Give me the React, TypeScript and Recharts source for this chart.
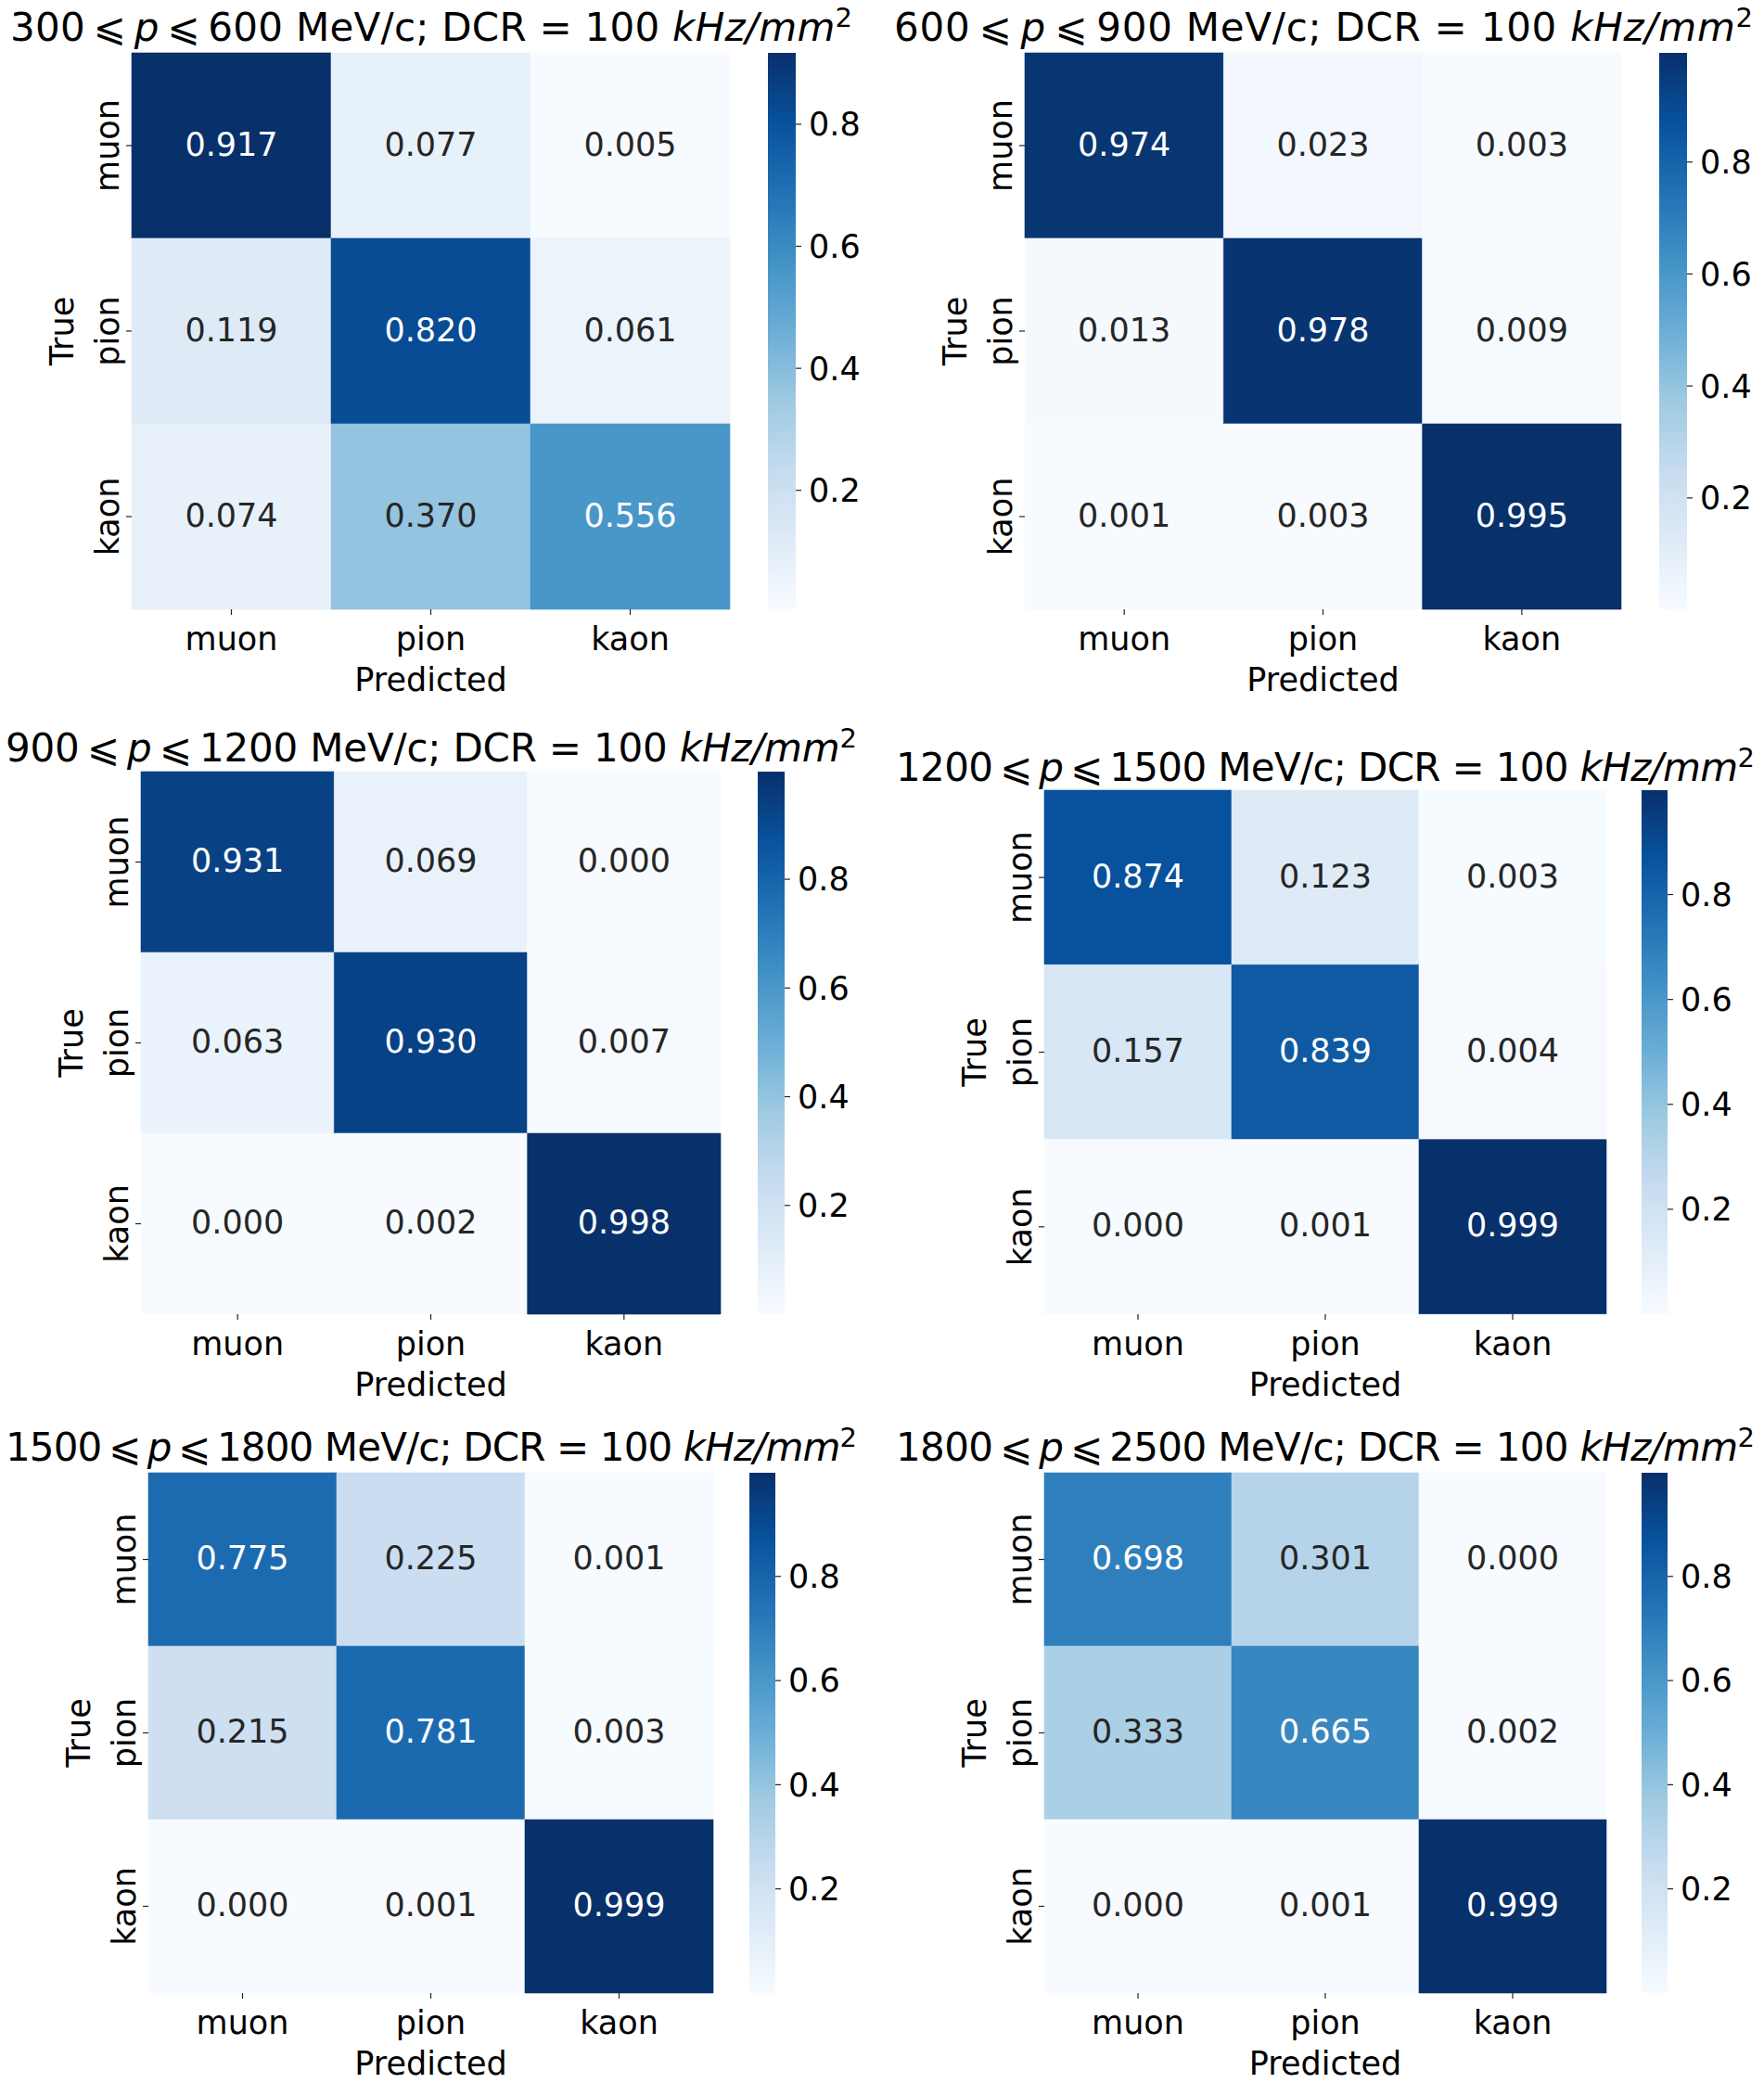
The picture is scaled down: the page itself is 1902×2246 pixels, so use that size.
import React from 'react';
import { BarChart, Bar, XAxis, YAxis, Cell, LabelList } from 'recharts';

// particle classes, same order on both axes
const classes = ['muon', 'pion', 'kaon'];

// momentum bins (MeV/c), one panel per bin
const momentumLow = [300, 600, 900, 1200, 1500, 1800];
const momentumHigh = [600, 900, 1200, 1500, 1800, 2500];

// normalised confusion matrices, rows = true class, cols = predicted class
const matrix300 = [
  [0.917, 0.077, 0.005],
  [0.119, 0.82, 0.061],
  [0.074, 0.37, 0.556],
];
const matrix600 = [
  [0.974, 0.023, 0.003],
  [0.013, 0.978, 0.009],
  [0.001, 0.003, 0.995],
];
const matrix900 = [
  [0.931, 0.069, 0.0],
  [0.063, 0.93, 0.007],
  [0.0, 0.002, 0.998],
];
const matrix1200 = [
  [0.874, 0.123, 0.003],
  [0.157, 0.839, 0.004],
  [0.0, 0.001, 0.999],
];
const matrix1500 = [
  [0.775, 0.225, 0.001],
  [0.215, 0.781, 0.003],
  [0.0, 0.001, 0.999],
];
const matrix1800 = [
  [0.698, 0.301, 0.0],
  [0.333, 0.665, 0.002],
  [0.0, 0.001, 0.999],
];
const matrices = [matrix300, matrix600, matrix900, matrix1200, matrix1500, matrix1800];

const colorbarTicks = [0.2, 0.4, 0.6, 0.8];
const cellTicks = [0.5, 1.5, 2.5];

// where each panel sits on the page (plot box, colorbar, title baseline + width)
const layout = [
  { left: 142, top: 57, w: 645, h: 600, cb: 828, cbW: 30, title: 44, tw: 908 },
  { left: 1105, top: 57, w: 643, h: 600, cb: 1789, cbW: 30, title: 44, tw: 926 },
  { left: 152, top: 832, w: 625, h: 585, cb: 817, cbW: 29, title: 821, tw: 918 },
  { left: 1126, top: 852, w: 606, h: 565, cb: 1770, cbW: 28, title: 842, tw: 926 },
  { left: 160, top: 1588, w: 609, h: 561, cb: 808, cbW: 28, title: 1575, tw: 918 },
  { left: 1126, top: 1588, w: 606, h: 561, cb: 1770, cbW: 28, title: 1575, tw: 926 },
];

const FONT = '"DejaVu Sans", "Noto Sans", sans-serif';
const LABEL_SIZE = 35;
const TITLE_SIZE = 42;

// matplotlib "Blues"
const bluesStops = ['#f7fbff', '#deebf7', '#c6dbef', '#9ecae1', '#6baed6', '#4292c6', '#2171b5', '#08519c', '#08306b'];

const hexToRgb = (h: string) => [1, 3, 5].map((i) => parseInt(h.slice(i, i + 2), 16));

const blues = (t: number) => {
  const c = Math.max(0, Math.min(1, t)) * (bluesStops.length - 1);
  const i = Math.min(Math.floor(c), bluesStops.length - 2);
  const f = c - i;
  const a = hexToRgb(bluesStops[i]);
  const b = hexToRgb(bluesStops[i + 1]);
  const rgb = a.map((v, k) => Math.round(v + (b[k] - v) * f));
  return { css: `rgb(${rgb.join(',')})`, rgb };
};

const luminance = (rgb: number[]) => {
  const lin = rgb.map((v) => {
    const c = v / 255;
    return c <= 0.03928 ? c / 12.92 : Math.pow((c + 0.055) / 1.055, 2.4);
  });
  return 0.2126 * lin[0] + 0.7152 * lin[1] + 0.0722 * lin[2];
};

const RowTick = (props: any) => {
  const { x, y, payload } = props;
  const bx = x - 6;
  return (
    <text x={bx} y={y} transform={`rotate(-90 ${bx} ${y})`} textAnchor="middle" fontSize={LABEL_SIZE} fill="#000" fontFamily={FONT}>
      {payload.value}
    </text>
  );
};

const ColTick = (props: any) => {
  const { x, y, payload } = props;
  return (
    <text x={x} y={y + 36} textAnchor="middle" fontSize={LABEL_SIZE} fill="#000" fontFamily={FONT}>
      {classes[Math.floor(payload.value)]}
    </text>
  );
};

const THIN = '\u2009';

const Title = ({ idx }: { idx: number }) => {
  const g = layout[idx];
  const cx = g.left + g.w / 2;
  return (
    <svg
      width={10}
      height={10}
      style={{ position: 'absolute', left: cx - 5, top: g.title - 5, overflow: 'visible' }}
    >
      <text
        x={5}
        y={5}
        textAnchor="middle"
        textLength={g.tw}
        lengthAdjust="spacing"
        fontSize={TITLE_SIZE}
        fontFamily={FONT}
        fill="#000"
      >
        {`${momentumLow[idx]}${THIN}⩽${THIN}`}
        <tspan fontStyle="italic">p</tspan>
        {`${THIN}⩽${THIN}${momentumHigh[idx]} MeV/c; DCR = 100 `}
        <tspan fontStyle="italic">kHz/mm</tspan>
        <tspan dy={-15} fontSize={29}>2</tspan>
      </text>
    </svg>
  );
};

const Panel = ({ idx }: { idx: number }) => {
  const g = layout[idx];
  const m = matrices[idx];
  const flat = m.flat();
  const vmin = Math.min(...flat);
  const vmax = Math.max(...flat);
  const norm = (v: number) => (v - vmin) / (vmax - vmin);

  const rows = m.map((r, i) => ({ name: classes[i], muon: 1, pion: 1, kaon: 1 }));
  const cbData = [{ name: 'cb', range: [vmin, vmax] }];
  const gradId = `blues-${idx}`;

  return (
    <>
      <Title idx={idx} />
      <div style={{ position: 'absolute', left: g.left - 100, top: g.top - 10 }}>
        <BarChart
          layout="vertical"
          width={g.w + 110}
          height={g.h + 110}
          data={rows}
          margin={{ top: 10, right: 10, bottom: 0, left: 0 }}
          barCategoryGap={0}
          barGap={0}
        >
          <XAxis
            type="number"
            domain={[0, 3]}
            ticks={cellTicks}
            axisLine={false}
            tickSize={6}
            tickLine={{ stroke: '#222', strokeWidth: 1.2 }}
            height={100}
            tick={<ColTick />}
            interval={0}
            label={{
              content: () => (
                <text x={100 + g.w / 2} y={g.h + 10 + 88} textAnchor="middle" fontSize={LABEL_SIZE} fill="#000" fontFamily={FONT}>
                  Predicted
                </text>
              ),
            }}
          />
          <YAxis
            type="category"
            dataKey="name"
            width={100}
            axisLine={false}
            tickSize={6}
            tickLine={{ stroke: '#222', strokeWidth: 1.2 }}
            tick={<RowTick />}
            interval={0}
            label={{
              content: () => (
                <text
                  x={37}
                  y={10 + g.h / 2}
                  transform={`rotate(-90 37 ${10 + g.h / 2})`}
                  textAnchor="middle"
                  fontSize={LABEL_SIZE}
                  fill="#000"
                  fontFamily={FONT}
                >
                  True
                </text>
              ),
            }}
          />
          {classes.map((c, j) => (
            <Bar key={c} dataKey={c} stackId="cm" isAnimationActive={false}>
              {m.map((r, i) => {
                const col = blues(norm(r[j])).css;
                return <Cell key={i} fill={col} stroke={col} strokeWidth={0.6} />;
              })}
              <LabelList
                dataKey={c}
                content={(p: any) => {
                  const { x, y, width, height, index } = p;
                  const v = m[index][j];
                  const lum = luminance(blues(norm(v)).rgb);
                  return (
                    <text
                      x={Number(x) + Number(width) / 2}
                      y={Number(y) + Number(height) / 2}
                      dy="0.30em"
                      textAnchor="middle"
                      fontSize={LABEL_SIZE}
                      fontFamily={FONT}
                      fill={lum > 0.408 ? '#262626' : '#ffffff'}
                    >
                      {v.toFixed(3)}
                    </text>
                  );
                }}
              />
            </Bar>
          ))}
        </BarChart>
      </div>
      <div style={{ position: 'absolute', left: g.cb, top: g.top - 10 }}>
        <BarChart
          width={g.cbW + 100}
          height={g.h + 20}
          data={cbData}
          margin={{ top: 10, right: 0, bottom: 10, left: 0 }}
          barCategoryGap={0}
        >
          <defs>
            <linearGradient id={gradId} x1="0" y1="1" x2="0" y2="0">
              {bluesStops.map((s, k) => (
                <stop key={k} offset={k / (bluesStops.length - 1)} stopColor={s} />
              ))}
            </linearGradient>
          </defs>
          <XAxis dataKey="name" type="category" hide />
          <YAxis
            orientation="right"
            type="number"
            domain={[vmin, vmax]}
            allowDataOverflow
            ticks={colorbarTicks}
            width={100}
            axisLine={false}
            tickSize={6}
            tickMargin={8}
            tickLine={{ stroke: '#222', strokeWidth: 1.2 }}
            tick={{ fontSize: LABEL_SIZE, fill: '#000', fontFamily: FONT }}
            tickFormatter={(v: number) => v.toFixed(1)}
          />
          <Bar dataKey="range" fill={`url(#${gradId})`} isAnimationActive={false} />
        </BarChart>
      </div>
    </>
  );
};

export default function App() {
  return (
    <div style={{ position: 'absolute', left: 0, top: 0, width: 1902, height: 2246, background: '#fff', fontFamily: FONT }}>
      {matrices.map((_, i) => (
        <Panel key={i} idx={i} />
      ))}
    </div>
  );
}
